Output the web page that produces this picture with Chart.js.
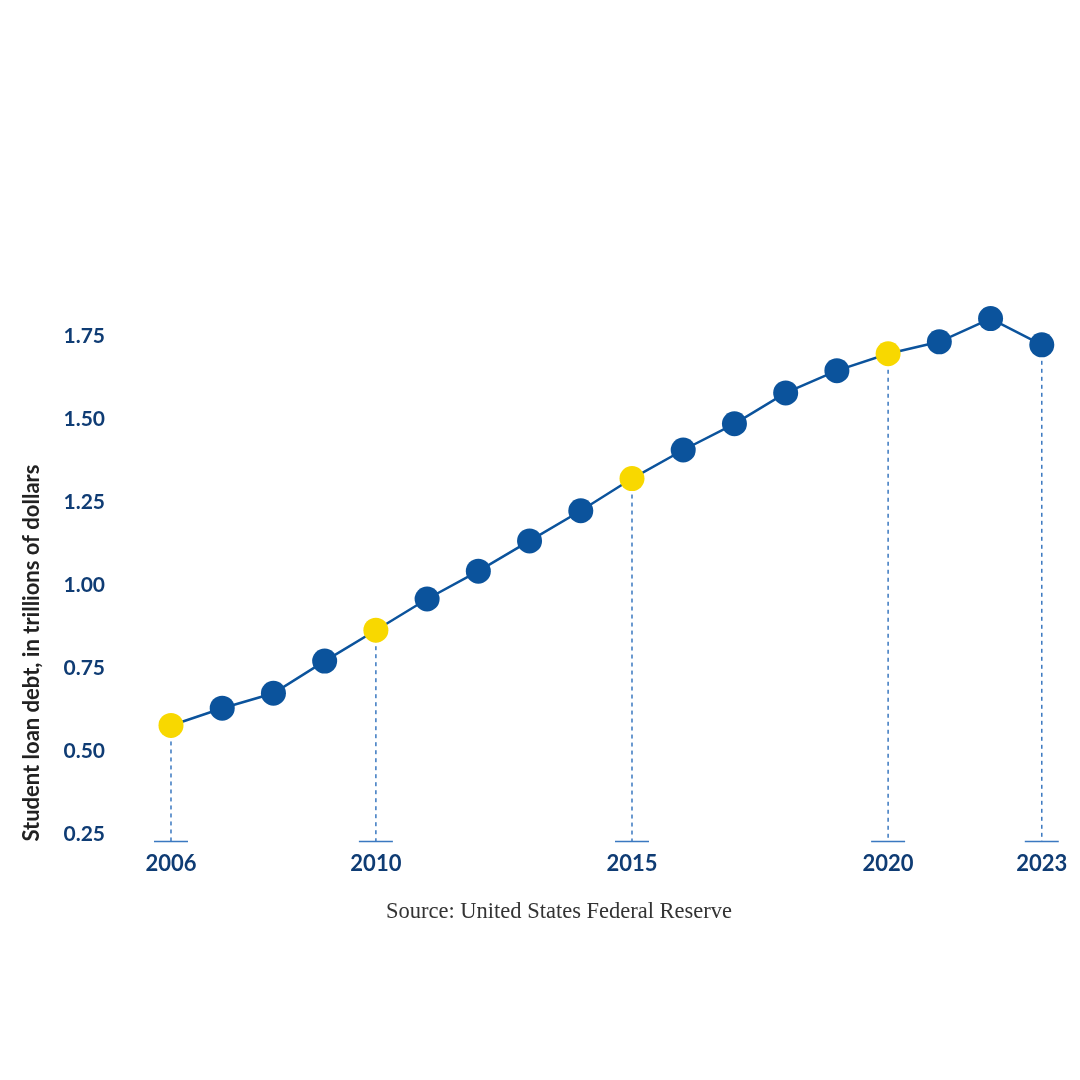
<!DOCTYPE html>
<html>
<head>
<meta charset="utf-8">
<script src="https://cdn.jsdelivr.net/npm/chart.js@4"></script>
<style>
  html, body { margin: 0; padding: 0; background: #fff; }
  #wrap { position: relative; width: 1080px; height: 1080px; }
  #source {
    position: absolute; left: 0; width: 1118px; top: 898px;
    text-align: center; font-family: "Liberation Serif", serif;
    font-size: 22.5px; color: #333;
  }
</style>
</head>
<body>
<div id="wrap">
  <canvas id="debtChart" width="1080" height="1080"></canvas>
  <div id="source">Source: United States Federal Reserve</div>
</div>
<script>
// student loan debt, trillions of dollars
const years = [2006, 2007, 2008, 2009, 2010, 2011, 2012, 2013, 2014, 2015, 2016, 2017, 2018, 2019, 2020, 2021, 2022, 2023];
const debt = [0.578, 0.630, 0.675, 0.772, 0.865, 0.959, 1.043, 1.134, 1.225, 1.322, 1.408, 1.487, 1.580, 1.647, 1.698, 1.734, 1.804, 1.725];
const highlightYears = [2006, 2010, 2015, 2020];
const labelYears = [2006, 2010, 2015, 2020, 2023];
const yTicks = [0.25, 0.50, 0.75, 1.00, 1.25, 1.50, 1.75];

const Y_MIN = 0.228;
const Y_MAX = 1.86;
const BLUE = '#0b539c';
const YELLOW = '#f8d800';
const STEM = '#3a78c0';
const NAVY = '#0f3c74';

const points = years.map((y, i) => ({ x: y, y: debt[i] }));

// dashed drop lines for the labelled years
const stems = labelYears.map(yr => ({
  type: 'line',
  data: [{ x: yr, y: debt[years.indexOf(yr)] }, { x: yr, y: Y_MIN }],
  borderColor: STEM,
  borderWidth: 1.5,
  borderDash: [4, 4],
  pointRadius: 0,
  order: 3
}));

const caps = {
  type: 'scatter',
  data: labelYears.map(yr => ({ x: yr, y: Y_MIN })),
  pointStyle: 'line',
  pointRadius: 17,
  borderColor: STEM,
  backgroundColor: STEM,
  pointBorderWidth: 1.5,
  clip: false,
  order: 4
};

const main = {
  type: 'line',
  data: points,
  borderColor: BLUE,
  borderWidth: 2.5,
  pointRadius: 12.5,
  pointHoverRadius: 12.5,
  pointBorderWidth: 0,
  pointBackgroundColor: years.map(y => highlightYears.includes(y) ? YELLOW : BLUE),
  clip: false,
  order: 1
};

new Chart(document.getElementById('debtChart').getContext('2d'), {
  type: 'line',
  data: { datasets: [main, ...stems, caps] },
  options: {
    responsive: false,
    animation: false,
    layout: { padding: { left: 19, right: 7, top: 300, bottom: 194 } },
    plugins: { legend: { display: false }, tooltip: { enabled: false } },
    scales: {
      x: {
        type: 'linear',
        min: 2004.946,
        max: 2023.385,
        afterBuildTicks: scale => { scale.ticks = labelYears.map(v => ({ value: v })); },
        grid: { display: false, drawTicks: false },
        border: { display: false },
        ticks: {
          padding: 9,
          color: NAVY,
          font: { family: 'Lato', weight: 'bold', size: 22 },
          callback: v => String(v)
        }
      },
      y: {
        min: Y_MIN,
        max: Y_MAX,
        afterBuildTicks: scale => { scale.ticks = yTicks.map(v => ({ value: v })); },
        afterFit: scale => { scale.width = 98; },
        grid: { display: false, drawTicks: false },
        border: { display: false },
        ticks: {
          padding: 12,
          color: NAVY,
          font: { family: 'Lato', weight: 'bold', size: 21 },
          callback: v => v.toFixed(2)
        },
        title: {
          display: true,
          text: 'Student loan debt, in trillions of dollars',
          align: 'start',
          color: '#222',
          padding: { top: 0, bottom: 0 },
          font: { family: 'Lato', weight: 'bold', size: 22 }
        }
      }
    }
  }
});
</script>
</body>
</html>
